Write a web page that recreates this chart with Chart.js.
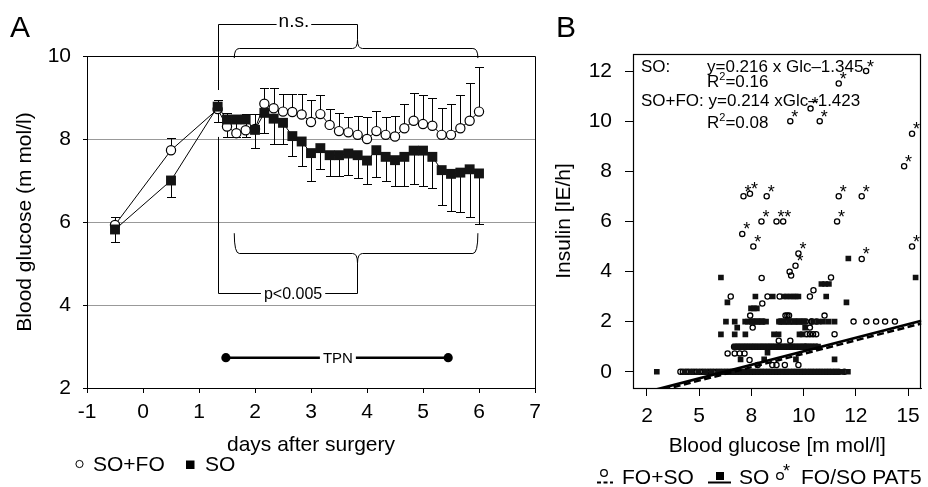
<!DOCTYPE html>
<html>
<head>
<meta charset="utf-8">
<script src="https://cdn.jsdelivr.net/npm/chart.js@4.4.1/dist/chart.umd.min.js"></script>
<style>
  body { margin: 0; background: #fff; }
  #wrap { position: relative; width: 928px; height: 487px; overflow: hidden; }
  canvas { position: absolute; top: 0; }
  #chartA { left: 0; }
  #chartB { left: 540px; }
</style>
</head>
<body>
<div id="wrap">
  <canvas id="chartA" width="550" height="487"></canvas>
  <canvas id="chartB" width="388" height="487"></canvas>
</div>
<script>
// ---------- panel A: blood glucose over time ----------
const days = [-0.5, 0.5, 1.333, 1.5, 1.667, 1.833, 2.0, 2.167, 2.333, 2.5, 2.667, 2.833, 3.0, 3.167, 3.333,
  3.5, 3.667, 3.833, 4.0, 4.167, 4.333, 4.5, 4.667, 4.833, 5.0, 5.167, 5.333, 5.5, 5.667, 5.833, 6.0];
const soFo = [5.93, 7.73, 8.72, 8.30, 8.14, 8.21, 8.24, 8.85, 8.74, 8.66, 8.65, 8.59, 8.41, 8.60, 8.34,
  8.19, 8.16, 8.10, 8.00, 8.19, 8.10, 8.06, 8.26, 8.44, 8.36, 8.32, 8.10, 8.10, 8.26, 8.44, 8.66];
const soFoTop = [6.13, 8.03, 8.94, 8.62, 8.55, 8.60, 8.60, 9.22, 9.22, 9.08, 9.08, 9.08, 8.94, 9.06, 8.72,
  8.62, 8.52, 8.55, 8.52, 8.67, 8.52, 8.55, 8.84, 9.10, 9.06, 8.98, 8.74, 8.84, 9.06, 9.36, 9.74];
const so = [5.82, 7.00, 8.78, 8.47, 8.47, 8.47, 8.22, 8.63, 8.49, 8.39, 8.07, 7.94, 7.66, 7.78, 7.61,
  7.61, 7.65, 7.61, 7.48, 7.73, 7.57, 7.49, 7.57, 7.72, 7.72, 7.57, 7.25, 7.16, 7.19, 7.27, 7.17];
const soBottom = [5.51, 6.61, 8.42, 8.06, 8.06, 8.06, 7.78, 8.14, 7.87, 7.87, 7.58, 7.34, 6.99, 7.27, 7.11,
  7.11, 7.13, 7.05, 6.92, 7.08, 7.00, 6.87, 6.87, 6.92, 6.87, 6.81, 6.41, 6.27, 6.23, 6.13, 5.94];
const xTicksA = [-1, 0, 1, 2, 3, 4, 5, 6, 7];
const yTicksA = [2, 4, 6, 8, 10];
const gridLinesA = [4, 6, 8];

// ---------- panel B: insulin vs blood glucose ----------
// scattered single points [glucose, insulin]
const foPoints = [[7.99, 3.74], [9.33, 3.99], [9.40, 3.84], [11.31, 3.76], [10.47, 3.25], [10.30, 3.0], [6.51, 3.0],
  [8.85, 3.0], [8.27, 3.0], [8.02, 2.72], [7.44, 2.24], [9.13, 2.24], [9.22, 2.24], [9.30, 2.24], [11.0, 2.24],
  [7.56, 1.76], [10.30, 1.76], [10.38, 2.0], [10.15, 1.5], [10.30, 1.5], [10.45, 1.5], [10.60, 1.5], [11.48, 1.5],
  [8.81, 1.24], [9.36, 1.24], [10.07, 1.0], [6.36, 0.73], [6.70, 0.73], [6.94, 0.73], [7.17, 0.73], [7.41, 0.47],
  [7.80, 0.27], [8.50, 0.27], [8.70, 0.27], [9.10, 0.27], [9.75, 0.27]];
const soPoints = [[2.97, 0], [6.04, 3.76], [6.35, 2.77], [12.05, 2.77], [7.48, 2.53], [7.62, 2.53], [7.76, 2.53],
  [6.04, 1.49], [6.70, 1.49], [7.21, 1.49], [8.58, 1.49], [8.80, 1.49], [9.80, 1.49], [9.95, 1.49], [6.82, 1.76],
  [10.07, 1.76], [8.27, 0.76], [6.98, 0.49], [8.11, 0.49], [9.63, 0.49], [11.48, 0.49], [12.14, 4.52],
  [15.36, 3.76], [10.85, 3.5], [11.03, 3.5], [11.21, 3.5], [7.69, 3.0], [8.52, 3.0], [9.05, 3.0], [9.20, 3.0],
  [9.35, 3.0], [9.50, 3.0], [9.62, 3.0], [9.75, 3.0], [11.08, 3.0]];
const pat5Points = [[12.99, 12.0], [11.68, 11.5], [10.33, 10.5], [9.36, 10.0], [10.77, 10.0], [15.19, 9.5],
  [14.81, 8.2], [7.12, 7.0], [7.43, 7.1], [8.23, 7.0], [11.68, 7.0], [12.78, 7.0], [7.98, 6.0], [8.70, 6.0],
  [9.02, 6.0], [11.60, 6.0], [7.06, 5.5], [7.59, 5.0], [15.19, 5.0], [9.75, 4.72], [9.61, 4.23], [12.78, 4.5]];
// crowded rows at whole insulin rates: glucose values only
const foRow0 = [4.10, 4.22, 4.36, 4.48, 4.62, 4.75, 4.88, 5.02, 5.15, 5.28, 5.42, 5.55, 5.68, 5.82, 5.95, 6.08,
  6.22, 6.35, 6.48, 6.62, 6.75, 6.88, 7.02, 7.15, 7.28, 7.42, 7.55, 7.68, 7.82, 7.95, 8.08, 8.22, 8.35, 8.48,
  8.62, 8.75, 8.88, 9.02, 9.15, 9.28, 9.42, 9.55, 9.68, 9.82, 9.95, 10.08, 10.22, 10.35, 10.48, 10.62, 10.75,
  10.88, 11.02, 11.15, 11.28, 11.42, 11.55, 11.68, 11.95];
const soRow0 = [4.30, 4.62, 4.95, 5.30, 5.60, 5.92, 6.10, 6.25, 6.40, 6.55, 6.70, 6.85, 7.00, 7.15, 7.28, 7.40,
  7.55, 7.70, 7.85, 8.00, 8.15, 8.30, 8.45, 8.60, 8.75, 8.90, 9.05, 9.20, 9.35, 9.50, 9.65, 9.80, 9.95, 10.10,
  10.25, 10.40, 10.55, 10.70, 10.85, 11.00, 11.15, 11.30, 11.45, 11.60, 11.75, 11.85, 12.12];
const foRow1 = [6.67, 6.80, 6.92, 7.05, 7.18, 7.30, 7.43, 7.56, 7.68, 7.81, 7.94, 8.06, 8.19, 8.32, 8.44, 8.57,
  8.70, 8.82, 8.95, 9.08, 9.20, 9.33, 9.46, 9.58, 9.71, 9.84, 9.96, 10.10, 10.22, 10.35, 10.48, 10.62];
const soRow1 = [6.70, 6.85, 6.98, 7.12, 7.25, 7.40, 7.52, 7.66, 7.80, 7.94, 8.08, 8.22, 8.35, 8.48, 8.62, 8.76,
  8.90, 9.04, 9.18, 9.32, 9.45, 9.58, 9.72, 9.86, 10.00, 10.14, 10.27, 10.41, 10.55, 10.69];
const foRow2 = [7.45, 7.58, 7.70, 7.83, 7.95, 8.08, 8.85, 8.97, 9.10, 9.22, 9.35, 9.47, 9.60, 9.72, 9.85, 9.97,
  10.10, 10.38, 10.62, 12.39, 13.00, 13.47, 13.90, 14.37];
const soRow2 = [6.28, 6.70, 7.20, 7.33, 7.55, 7.78, 8.00, 8.20, 8.82, 9.05, 9.30, 9.55, 9.80, 10.05, 10.45, 10.72,
  10.93, 11.20, 11.48];
const regSlope = [0.216, 0.214];        // SO, SO+FO
const regIntercept = [-1.345, -1.423];
const xTicksB = [2.5, 5, 7.5, 10, 12.5, 15];
const xTickLabelsB = ['2', '5', '8', '10', '12', '15'];
const yTicksB = [0, 2, 4, 6, 8, 10, 12];

const ff = '"Liberation Sans", Arial, sans-serif';
Chart.defaults.font.family = ff;
Chart.defaults.color = '#000';

const pts = arr => arr.map(p => ({x: p[0], y: p[1]}));
const row = (xs, v) => xs.map(x => ({x: x, y: v}));

// ---------- panel A plugins ----------
const bracket = {stemX: 1.333, from: 1.63, to: 5.98, mid: 3.815};
const nsBrace = {top: 10.77, line: 10.19, end: 9.95, tip: 10.39, stemEnd: 9.18, labelX: 2.695};
const pBrace = {bottom: 4.30, line: 5.25, end: 5.73, tip: 5.01, stemEnd: 8.05, labelX: 2.68};
const tpn = {from: 1.48, to: 5.45, y: 2.73, labelX: 3.48};

function brace(ctx, x0, x1, xm, yl, ye, yt) {
  const r = 5;
  ctx.beginPath();
  ctx.moveTo(x0, ye);
  ctx.quadraticCurveTo(x0, yl, x0 + r, yl);
  ctx.lineTo(xm - r, yl);
  ctx.quadraticCurveTo(xm, yl, xm, yt);
  ctx.quadraticCurveTo(xm, yl, xm + r, yl);
  ctx.lineTo(x1 - r, yl);
  ctx.quadraticCurveTo(x1, yl, x1, ye);
  ctx.stroke();
}

const errorBarsA = {
  id: 'errorBarsA',
  beforeDatasetsDraw(chart) {
    const {ctx, scales: {x, y}} = chart;
    ctx.save();
    ctx.strokeStyle = '#000';
    ctx.lineWidth = 1;
    const draw = (vals, ends) => days.forEach((d, i) => {
      const px = Math.round(x.getPixelForValue(d)) + 0.5;
      const p1 = Math.round(y.getPixelForValue(ends[i])) + 0.5;
      ctx.beginPath();
      ctx.moveTo(px, y.getPixelForValue(vals[i]));
      ctx.lineTo(px, p1);
      ctx.moveTo(px - 4.5, p1);
      ctx.lineTo(px + 4.5, p1);
      ctx.stroke();
    });
    draw(soFo, soFoTop);
    draw(so, soBottom);
    ctx.restore();
  }
};

const annotateA = {
  id: 'annotateA',
  afterDraw(chart) {
    const {ctx, chartArea: a, scales: {x, y}} = chart;
    const X = v => x.getPixelForValue(v), Y = v => y.getPixelForValue(v);
    ctx.save();
    ctx.strokeStyle = '#000';
    ctx.fillStyle = '#000';
    ctx.lineWidth = 1;
    // frame top and right
    ctx.beginPath();
    ctx.moveTo(a.left, Math.round(a.top) + 0.5);
    ctx.lineTo(Math.round(a.right) + 0.5, Math.round(a.top) + 0.5);
    ctx.lineTo(Math.round(a.right) + 0.5, a.bottom);
    ctx.stroke();

    const sx = Math.round(X(bracket.stemX)) + 0.5, mx = Math.round(X(bracket.mid)) + 0.5;
    const bx0 = X(bracket.from), bx1 = X(bracket.to);
    ctx.textAlign = 'center';

    // n.s.
    ctx.font = '19px ' + ff;
    let ty = Math.round(Y(nsBrace.top)) + 0.5, tx = X(nsBrace.labelX), tw = ctx.measureText('n.s.').width;
    ctx.beginPath();
    ctx.moveTo(sx, Y(nsBrace.stemEnd));
    ctx.lineTo(sx, ty);
    ctx.lineTo(tx - tw / 2 - 2, ty);
    ctx.moveTo(tx + tw / 2 + 2, ty);
    ctx.lineTo(mx, ty);
    ctx.lineTo(mx, Y(nsBrace.tip));
    ctx.stroke();
    ctx.textBaseline = 'alphabetic';
    ctx.fillText('n.s.', tx, ty + 2);
    brace(ctx, bx0, bx1, mx, Math.round(Y(nsBrace.line)) + 0.5, Y(nsBrace.end), Y(nsBrace.tip));

    // p<0.005
    ctx.font = '16px ' + ff;
    ty = Math.round(Y(pBrace.bottom)) + 0.5; tx = X(pBrace.labelX); tw = ctx.measureText('p<0.005').width;
    ctx.beginPath();
    ctx.moveTo(sx, Y(pBrace.stemEnd));
    ctx.lineTo(sx, ty);
    ctx.lineTo(tx - tw / 2 - 3, ty);
    ctx.moveTo(tx + tw / 2 + 3, ty);
    ctx.lineTo(mx, ty);
    ctx.lineTo(mx, Y(pBrace.tip));
    ctx.stroke();
    ctx.textBaseline = 'middle';
    ctx.fillText('p<0.005', tx, ty + 1);
    brace(ctx, bx0, bx1, mx, Math.round(Y(pBrace.line)) + 0.5, Y(pBrace.end), Y(pBrace.tip));

    // TPN period
    ctx.font = '15px ' + ff;
    ty = Y(tpn.y); tx = X(tpn.labelX); tw = ctx.measureText('TPN').width;
    ctx.lineWidth = 2.5;
    ctx.beginPath();
    ctx.moveTo(X(tpn.from), ty);
    ctx.lineTo(tx - tw / 2 - 3, ty);
    ctx.moveTo(tx + tw / 2 + 3, ty);
    ctx.lineTo(X(tpn.to), ty);
    ctx.stroke();
    [tpn.from, tpn.to].forEach(v => {
      ctx.beginPath();
      ctx.arc(X(v), ty, 4.6, 0, Math.PI * 2);
      ctx.fill();
    });
    ctx.fillText('TPN', tx, ty + 1);

    // panel letter
    ctx.textAlign = 'left';
    ctx.textBaseline = 'alphabetic';
    ctx.font = '30px ' + ff;
    ctx.fillText('A', 10, 37);

    // legend
    ctx.font = '21px ' + ff;
    ctx.lineWidth = 1;
    ctx.beginPath();
    ctx.arc(79.5, 464, 3.6, 0, Math.PI * 2);
    ctx.stroke();
    ctx.fillText('SO+FO', 93, 471);
    ctx.fillRect(186, 460.5, 8.5, 8.5);
    ctx.fillText('SO', 205, 471);
    ctx.restore();
  }
};

new Chart(document.getElementById('chartA'), {
  type: 'line',
  data: {
    datasets: [
      {
        label: 'SO',
        data: days.map((d, i) => ({x: d, y: so[i]})),
        borderColor: '#000', borderWidth: 1,
        pointStyle: 'rect', pointRadius: 7,
        pointBackgroundColor: '#141414', pointBorderColor: '#141414', pointBorderWidth: 0
      },
      {
        label: 'SO+FO',
        data: days.map((d, i) => ({x: d, y: soFo[i]})),
        borderColor: '#000', borderWidth: 1,
        pointStyle: 'circle', pointRadius: 4.6,
        pointBackgroundColor: '#fff', pointBorderColor: '#000', pointBorderWidth: 1.2
      }
    ]
  },
  options: {
    responsive: false,
    animation: false,
    layout: {padding: {left: 0, top: 56, right: 15, bottom: 0}},
    plugins: {legend: {display: false}, tooltip: {enabled: false}},
    scales: {
      x: {
        type: 'linear', min: -1, max: 7,
        afterBuildTicks: s => { s.ticks = xTicksA.map(v => ({value: v})); },
        afterFit: s => { s.height = 99; },
        grid: {drawOnChartArea: false, tickLength: 5, tickColor: '#000'},
        border: {color: '#000', width: 1},
        ticks: {padding: 7, font: {size: 21}, color: '#000', maxRotation: 0,
          callback: (v, i) => String(xTicksA[i])},
        title: {display: true, text: 'days after surgery', font: {size: 21}, color: '#000', padding: {top: 0, bottom: 29}}
      },
      y: {
        min: 2, max: 10,
        afterBuildTicks: s => { s.ticks = yTicksA.map(v => ({value: v})); },
        afterFit: s => { s.width = 87; },
        grid: {
          color: c => (c.tick && gridLinesA.includes(c.tick.value)) ? '#999' : 'rgba(0,0,0,0)',
          tickLength: 4, tickColor: '#000'
        },
        border: {color: '#000', width: 1},
        ticks: {padding: 12, font: {size: 21}, color: '#000', callback: v => String(v)},
        title: {display: true, text: 'Blood glucose (m mol/l)', font: {size: 21}, color: '#000', padding: {top: 13, bottom: 0}}
      }
    }
  },
  plugins: [errorBarsA, annotateA]
});

// ---------- panel B ----------
// asterisk beside a circle, offset up and to the right
function star(ctx, x, y) {
  ctx.font = '18px ' + ff;
  ctx.textAlign = 'center';
  ctx.textBaseline = 'alphabetic';
  ctx.fillText('*', x + 4.5, y + 1.5);
}

const annotateB = {
  id: 'annotateB',
  afterDatasetsDraw(chart) {
    const {ctx} = chart;
    const meta = chart.getDatasetMeta(2);
    ctx.save();
    ctx.fillStyle = '#000';
    meta.data.forEach(el => star(ctx, el.x, el.y));
    ctx.restore();
  },
  afterDraw(chart) {
    const {ctx, chartArea: a} = chart;
    ctx.save();
    ctx.strokeStyle = '#000';
    ctx.fillStyle = '#000';
    ctx.lineWidth = 1.2;
    ctx.strokeRect(Math.round(a.left) + 0.5, Math.round(a.top) + 0.5, Math.round(a.right - a.left) - 1, Math.round(a.bottom - a.top));

    // regression equations
    const L = a.left, T = a.top;
    ctx.textAlign = 'left';
    ctx.textBaseline = 'alphabetic';
    const sup = (base, x, y) => {
      ctx.font = '17px ' + ff;
      ctx.fillText('R', x, y);
      let w = ctx.measureText('R').width;
      ctx.font = '11px ' + ff;
      ctx.fillText('2', x + w, y - 7);
      w += ctx.measureText('2').width;
      ctx.font = '17px ' + ff;
      ctx.fillText(base, x + w, y);
    };
    ctx.font = '17px ' + ff;
    ctx.fillText('SO:', L + 8, T + 18);
    ctx.fillText('y=0.216 x Glc\u20131.345', L + 74, T + 18);
    sup('=0.16', L + 74, T + 33);
    ctx.fillText('SO+FO: y=0.214 xGlc\u20131.423', L + 8, T + 52);
    sup('=0.08', L + 74, T + 74);

    // panel letter
    ctx.font = '30px ' + ff;
    ctx.fillText('B', 16, 37);

    // legend
    ctx.lineWidth = 1.3;
    ctx.beginPath();
    ctx.arc(64, 473, 3.3, 0, Math.PI * 2);
    ctx.stroke();
    ctx.lineWidth = 1.8;
    ctx.setLineDash([4, 2.5]);
    ctx.beginPath();
    ctx.moveTo(57, 482.5); ctx.lineTo(73, 482.5);
    ctx.stroke();
    ctx.setLineDash([]);
    ctx.font = '21px ' + ff;
    ctx.fillText('FO+SO', 82, 484);
    ctx.fillRect(176, 472, 8, 8);
    ctx.lineWidth = 2;
    ctx.beginPath();
    ctx.moveTo(168, 482.5); ctx.lineTo(191, 482.5);
    ctx.stroke();
    ctx.fillText('SO', 199, 484);
    ctx.lineWidth = 1.3;
    ctx.beginPath();
    ctx.arc(240, 476, 3.3, 0, Math.PI * 2);
    ctx.stroke();
    star(ctx, 242, 475);
    ctx.font = '21px ' + ff;
    ctx.textAlign = 'left';
    ctx.fillText('FO/SO PAT5', 261, 484);
    ctx.restore();
  }
};

const xMinB = 1.83, xMaxB = 15.64;
const regLine = k => [xMinB, xMaxB].map(x => ({x: x, y: regSlope[k] * x + regIntercept[k]}));

new Chart(document.getElementById('chartB'), {
  type: 'scatter',
  data: {
    datasets: [
      {label: 'SO fit', type: 'line', data: regLine(0), showLine: true, borderColor: '#000', borderWidth: 2.7,
        pointRadius: 0, order: 0},
      {label: 'SO+FO fit', type: 'line', data: regLine(1), showLine: true, borderColor: '#000', borderWidth: 2.5,
        borderDash: [7, 3.5], pointRadius: 0, order: 1},
      {label: 'FO/SO PAT5', data: pts(pat5Points), pointStyle: 'circle', pointRadius: 2.6,
        pointBackgroundColor: 'rgba(0,0,0,0)', pointBorderColor: '#000', pointBorderWidth: 1.3, order: 2},
      {label: 'SO', data: pts(soPoints).concat(row(soRow0, 0), row(soRow1, 1), row(soRow2, 2)),
        pointStyle: 'rect', pointRadius: 4, pointBackgroundColor: '#111', pointBorderColor: '#111',
        pointBorderWidth: 0, order: 3},
      {label: 'FO+SO', data: pts(foPoints).concat(row(foRow0, 0), row(foRow1, 1), row(foRow2, 2)),
        pointStyle: 'circle', pointRadius: 2.6, pointBackgroundColor: 'rgba(0,0,0,0)', pointBorderColor: '#000',
        pointBorderWidth: 1.3, order: 4}
    ]
  },
  options: {
    responsive: false,
    animation: false,
    layout: {padding: {left: 0, top: 54, right: 1, bottom: 0}},
    plugins: {legend: {display: false}, tooltip: {enabled: false}},
    scales: {
      x: {
        type: 'linear', min: xMinB, max: xMaxB,
        afterBuildTicks: s => { s.ticks = xTicksB.map(v => ({value: v})); },
        afterFit: s => { s.height = 99; },
        grid: {drawOnChartArea: false, tickLength: 8, tickColor: '#000'},
        border: {color: '#000', width: 1},
        ticks: {padding: 8, font: {size: 21}, color: '#000', maxRotation: 0,
          callback: (v, i) => xTickLabelsB[i]},
        title: {display: true, text: 'Blood glucose [m mol/l]', font: {size: 21}, color: '#000', padding: {top: 0, bottom: 28}}
      },
      y: {
        min: -0.65, max: 12.68,
        afterBuildTicks: s => { s.ticks = yTicksB.map(v => ({value: v})); },
        afterFit: s => { s.width = 93; },
        grid: {drawOnChartArea: false, tickLength: 8, tickColor: '#000'},
        border: {color: '#000', width: 1},
        ticks: {padding: 13, font: {size: 21}, color: '#000', callback: v => String(v)},
        title: {display: true, text: 'Insulin [IE/h]', font: {size: 21}, color: '#000', padding: {top: 12, bottom: 0}}
      }
    }
  },
  plugins: [annotateB]
});
</script>
</body>
</html>
